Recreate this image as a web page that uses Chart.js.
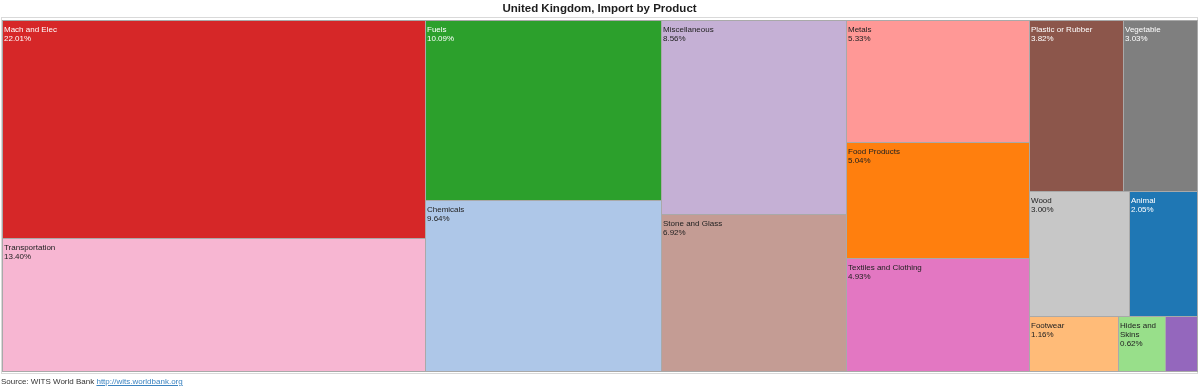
<!DOCTYPE html>
<html>
<head>
<meta charset="utf-8">
<title>United Kingdom, Import by Product</title>
<script src="https://cdn.jsdelivr.net/npm/chart.js@4.4.0/dist/chart.umd.min.js"></script>
<style>
  html, body { margin: 0; padding: 0; background: #fff; }
  .wrap { position: relative; width: 1200px; height: 391px; }
  .fonte {
    position: absolute; left: 1px; top: 377px;
    font: 8px "Liberation Sans", Arial, sans-serif; color: #333; white-space: nowrap;
  }
  .fonte a { color: #3b83c0; }
</style>
</head>
<body>
<div class="wrap">
  <canvas id="grafico"></canvas>
  <div class="fonte">Source: WITS World Bank <a href="http://wits.worldbank.org">http://wits.worldbank.org</a></div>
</div>
<script>
  // dados (percentual das importações)
  const produtos = [
    "Animal", "Chemicals", "Food Products", "Footwear", "Fuels", "Hides and Skins",
    "Mach and Elec", "Metals", "Minerals", "Miscellaneous", "Plastic or Rubber",
    "Stone and Glass", "Textiles and Clothing", "Transportation", "Vegetable", "Wood",
  ];
  const percentuais = [
    2.05, 9.64, 5.04, 1.16, 10.09, 0.62,
    22.01, 5.33, 0.41, 8.56, 3.82,
    6.92, 4.93, 13.40, 3.03, 3.00,
  ];
  const cores = [
    "#1f77b4", "#aec7e8", "#ff7f0e", "#ffbb78", "#2ca02c", "#98df8a",
    "#d62728", "#ff9896", "#9467bd", "#c5b0d5", "#8c564b",
    "#c49c94", "#e377c2", "#f7b6d2", "#7f7f7f", "#c7c7c7",
  ];
  const titulo = "United Kingdom, Import by Product";

(function () {
  "use strict";

  const FONTE = '"Liberation Sans", Arial, sans-serif';
  let celulas = [];

  // squarify (mesma regra do d3), em unidades de pixel da área do gráfico
  function squarify(itens, x0, y0, x1, y1) {
    const ratio = (1 + Math.sqrt(5)) / 2;
    let total = itens.reduce((s, d) => s + d.valor, 0);
    let i0 = 0;
    const n = itens.length;
    while (i0 < n) {
      const dx = x1 - x0;
      const dy = y1 - y0;
      let i1 = i0;
      let soma = itens[i1++].valor;
      let min = soma;
      let max = soma;
      const alpha = Math.max(dy / dx, dx / dy) / (total * ratio);
      let beta = soma * soma * alpha;
      let melhor = Math.max(max / beta, beta / min);
      for (; i1 < n; i1++) {
        const v = itens[i1].valor;
        const s2 = soma + v;
        const mn = Math.min(min, v);
        const mx = Math.max(max, v);
        beta = s2 * s2 * alpha;
        const r = Math.max(mx / beta, beta / mn);
        if (r > melhor) break;
        soma = s2;
        min = mn;
        max = mx;
        melhor = r;
      }
      const linha = itens.slice(i0, i1);
      if (dx < dy) {
        const yb = y0 + (dy * soma) / total;
        let x = x0;
        linha.forEach((d) => {
          const w = (dx * d.valor) / soma;
          d.ret = [x, y0, x + w, yb];
          x += w;
        });
        y0 = yb;
      } else {
        const xb = x0 + (dx * soma) / total;
        let y = y0;
        linha.forEach((d) => {
          const h = (dy * d.valor) / soma;
          d.ret = [x0, y, xb, y + h];
          y += h;
        });
        x0 = xb;
      }
      total -= soma;
      i0 = i1;
    }
  }

  function corTexto(hex) {
    const c = [1, 3, 5].map((i) => {
      const v = parseInt(hex.substr(i, 2), 16) / 255;
      return v <= 0.03928 ? v / 12.92 : Math.pow((v + 0.055) / 1.055, 2.4);
    });
    const lum = 0.2126 * c[0] + 0.7152 * c[1] + 0.0722 * c[2];
    return lum < 0.3 ? "#ffffff" : "#222222";
  }

  function quebrarTexto(ctx, texto, largura) {
    const palavras = texto.split(" ");
    if (palavras.some((p) => ctx.measureText(p).width > largura)) return null;
    const linhas = [];
    let atual = "";
    palavras.forEach((p) => {
      const teste = atual ? atual + " " + p : p;
      if (ctx.measureText(teste).width > largura && atual) {
        linhas.push(atual);
        atual = p;
      } else {
        atual = teste;
      }
    });
    if (atual) linhas.push(atual);
    return linhas;
  }

  const treemapPlugin = {
    id: "treemapCelulas",
    afterLayout(chart) {
      const a = chart.chartArea;
      const w = a.right - a.left;
      const h = a.bottom - a.top;
      const itens = produtos
        .map((nome, i) => ({ nome, valor: percentuais[i], cor: cores[i] }))
        .sort((p, q) => q.valor - p.valor);
      squarify(itens, 0, 0, w, h);
      // converte para os valores das escalas (0..100)
      celulas = itens.map((d) => ({
        nome: d.nome,
        valor: d.valor,
        cor: d.cor,
        x0: (d.ret[0] / w) * 100,
        y0: (d.ret[1] / h) * 100,
        x1: (d.ret[2] / w) * 100,
        y1: (d.ret[3] / h) * 100,
      }));
    },
    beforeDatasetsDraw(chart) {
      const { ctx, chartArea: a } = chart;
      ctx.save();
      ctx.strokeStyle = "#d9d9d9";
      ctx.lineWidth = 1;
      ctx.strokeRect(a.left - 0.5, a.top - 2.5, a.right - a.left + 1, a.bottom - a.top + 5);
      ctx.restore();
    },
    afterDatasetsDraw(chart) {
      const { ctx } = chart;
      const sx = chart.scales.x;
      const sy = chart.scales.y;
      ctx.save();
      ctx.font = "8px " + FONTE;
      ctx.textBaseline = "alphabetic";
      celulas.forEach((c) => {
        const l = Math.round(sx.getPixelForValue(c.x0));
        const r = Math.round(sx.getPixelForValue(c.x1));
        const t = Math.round(sy.getPixelForValue(c.y0));
        const b = Math.round(sy.getPixelForValue(c.y1));
        ctx.fillStyle = c.cor;
        ctx.fillRect(l, t, r - l, b - t);
        ctx.strokeStyle = "#a9a9a9";
        ctx.lineWidth = 1;
        ctx.strokeRect(l + 0.5, t + 0.5, r - l, b - t);

        const linhas = quebrarTexto(ctx, c.nome, r - l - 4);
        if (!linhas) return;
        linhas.push(c.valor.toFixed(2) + "%");
        if (12 + (linhas.length - 1) * 9 > b - t) return;
        ctx.fillStyle = corTexto(c.cor);
        linhas.forEach((txt, i) => {
          ctx.fillText(txt, l + 2, t + 12 + i * 9);
        });
      });
      ctx.restore();
    },
  };

  new Chart(document.getElementById("grafico"), {
    type: "scatter",
    data: { datasets: [{ data: [], pointRadius: 0 }] },
    options: {
      responsive: true,
      maintainAspectRatio: false,
      animation: false,
      layout: { padding: { left: 2, right: 3, top: 0, bottom: 20 } },
      scales: {
        x: { type: "linear", min: 0, max: 100, display: false },
        y: { type: "linear", min: 0, max: 100, reverse: true, display: false },
      },
      plugins: {
        legend: { display: false },
        tooltip: { enabled: false },
        title: {
          display: true,
          text: titulo,
          color: "#1e1e1e",
          font: { family: FONTE, size: 11.5, weight: "bold", lineHeight: "15px" },
          padding: { top: 1, bottom: 4 },
        },
      },
    },
    plugins: [treemapPlugin],
  });
})();
</script>
</body>
</html>
